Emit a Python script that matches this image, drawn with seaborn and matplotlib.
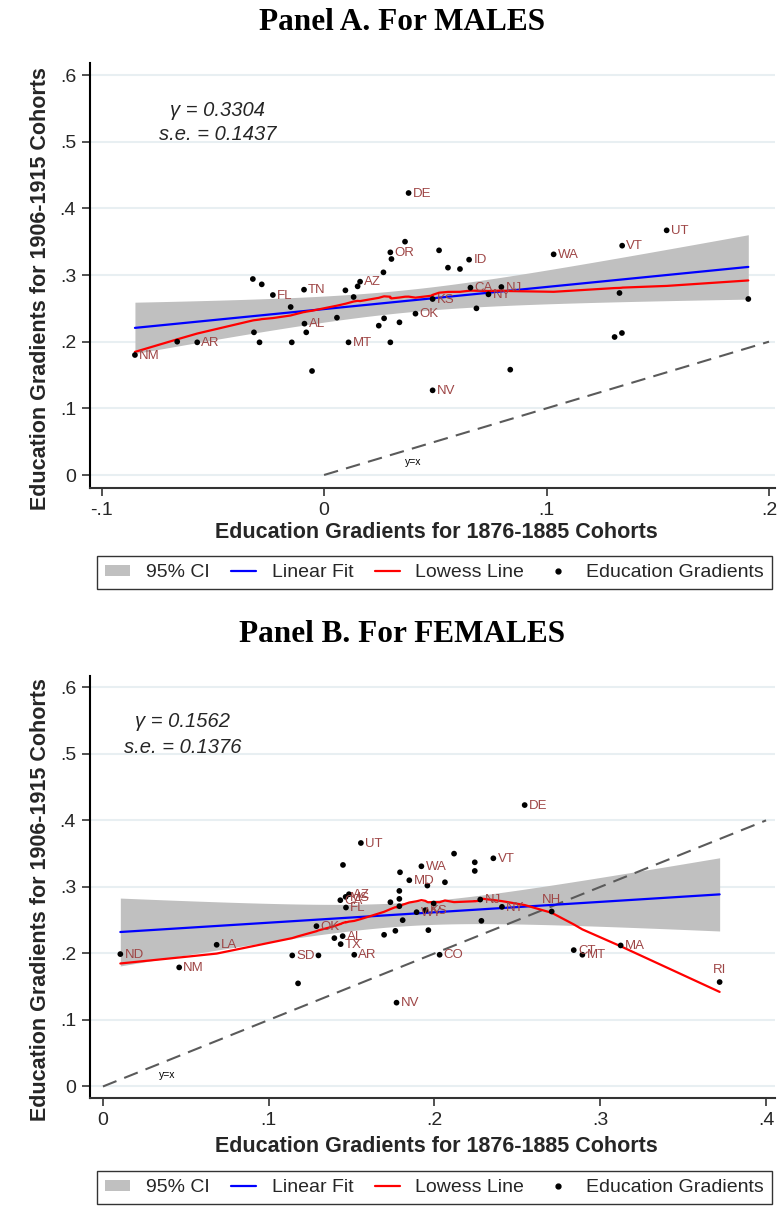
import numpy as np
import pandas as pd
import matplotlib
matplotlib.use("Agg")
import matplotlib.pyplot as plt
import seaborn as sns
from matplotlib.lines import Line2D
from matplotlib.patches import Patch
from matplotlib.ticker import FuncFormatter

# ---------------- data ----------------
states_m = ['NM', '', 'AR', '', '', 'FL', 'TN', '', '', '', 'AL', '', '', '', '', 'MT', '',
            'DE', '', 'OR', '', '', '', '', 'ID', 'WA', '', 'AZ', '', '', 'CA', 'NJ', 'NY', 'KS',
            '', 'OK', '', '', '', '', 'NV', '', 'VT', 'UT', '', '', '', '']
x_m = [-0.085, -0.066, -0.057, -0.032, -0.028, -0.023, -0.009, -0.015, 0.0096, 0.0058,
       -0.0088, -0.008, -0.0315, -0.029, -0.0145, 0.011, -0.0054, 0.038, 0.0364, 0.0298,
       0.0303, 0.0517, 0.0557, 0.0611, 0.0652, 0.1032, 0.0267, 0.0162, 0.0151, 0.0133,
       0.0658, 0.0797, 0.0739, 0.0488, 0.0685, 0.0411, 0.027, 0.0246, 0.0339, 0.0298,
       0.0488, 0.0837, 0.134, 0.154, 0.1328, 0.1907, 0.1306, 0.1339]
y_m = [0.18, 0.20, 0.199, 0.294, 0.286, 0.27, 0.278, 0.252, 0.277, 0.236, 0.227, 0.214,
       0.214, 0.199, 0.199, 0.199, 0.156, 0.423, 0.35, 0.334, 0.324, 0.337, 0.311, 0.309,
       0.323, 0.331, 0.304, 0.29, 0.283, 0.267, 0.281, 0.282, 0.271, 0.264, 0.25, 0.242,
       0.235, 0.224, 0.229, 0.199, 0.127, 0.158, 0.344, 0.367, 0.273, 0.264, 0.207, 0.213]

states_f = ['ND', 'NM', 'LA', 'SD', '', '', 'OK', 'UT', '', 'VT', '', '', '', 'WA', '', 'MD',
            '', '', '', '', '', '', 'WY', 'KS', '', '', 'NJ', 'NY', '', '', '', '', 'AZ', 'MS',
            'CA', 'FL', 'AL', '', 'TX', 'AR', 'CO', 'NV', 'DE', 'NH', 'CT', 'MT', 'MA', 'RI']
x_f = [0.0105, 0.046, 0.0686, 0.1142, 0.130, 0.1177, 0.1288, 0.1556, 0.1448, 0.2355,
       0.2118, 0.2243, 0.2243, 0.1921, 0.1792, 0.1848, 0.1957, 0.2063, 0.1788, 0.1788,
       0.1734, 0.1788, 0.1892, 0.1945, 0.1995, 0.1808, 0.2276, 0.2407, 0.2283, 0.1963,
       0.1764, 0.1696, 0.1484, 0.1464, 0.1432, 0.1466, 0.1446, 0.1396, 0.1434, 0.1516,
       0.2031, 0.1771, 0.2544, 0.2707, 0.284, 0.2892, 0.3123, 0.372]
y_f = [0.199, 0.179, 0.213, 0.197, 0.197, 0.155, 0.241, 0.366, 0.333, 0.343, 0.35, 0.337,
       0.324, 0.331, 0.322, 0.31, 0.302, 0.307, 0.294, 0.282, 0.277, 0.271, 0.262, 0.265,
       0.275, 0.25, 0.281, 0.27, 0.249, 0.235, 0.234, 0.228, 0.289, 0.285, 0.28, 0.269,
       0.226, 0.223, 0.214, 0.198, 0.198, 0.126, 0.423, 0.263, 0.205, 0.198, 0.212, 0.157]
labels_above_f = ['NH', 'RI']

titles = ['Panel A. For MALES', 'Panel B. For FEMALES']
gamma_txt = ['\u03b3 = 0.3304', '\u03b3 = 0.1562']
se_txt = ['s.e. = 0.1437', 's.e. = 0.1376']
xticks_list = [[-0.1, 0, 0.1, 0.2], [0, 0.1, 0.2, 0.3, 0.4]]
yticks = [0, 0.1, 0.2, 0.3, 0.4, 0.5, 0.6]
xlabel = 'Education Gradients for 1876-1885 Cohorts'
ylabel = 'Education Gradients for 1906-1915 Cohorts'
legend_labels = ['95% CI', 'Linear Fit', 'Lowess Line', 'Education Gradients']
diag_end = [0.2, 0.4]
T975 = 2.0129  # t critical value, df = 46

# ---------------- helpers ----------------
def stata_lowess(x, y, bw=0.8):
    order = np.argsort(x, kind='stable')
    xs, ys = x[order], y[order]
    n = len(xs)
    k = int(np.floor((n * bw - 0.5) / 2))
    fit = np.empty(n)
    for i in range(n):
        lo, hi = max(0, i - k), min(n - 1, i + k)
        xw, yw = xs[lo:hi + 1], ys[lo:hi + 1]
        d = 1.0001 * max(xs[hi] - xs[i], xs[i] - xs[lo])
        w = (1 - (np.abs(xw - xs[i]) / d) ** 3) ** 3
        W = w.sum()
        xm = (w * xw).sum() / W
        ym = (w * yw).sum() / W
        sxx = (w * (xw - xm) ** 2).sum()
        b = (w * (xw - xm) * (yw - ym)).sum() / sxx if sxx > 0 else 0.0
        fit[i] = ym + b * (xs[i] - xm)
    return xs, fit


def fmt(v, pos=None):
    if abs(v) < 1e-9:
        return '0'
    s = f'{v:g}'
    return s.replace('0.', '.')


sns.set_style('white')
plt.rcParams['font.family'] = ['Liberation Sans', 'DejaVu Sans']

fig = plt.figure(figsize=(7.83, 12.2), dpi=100)
W, H = 783, 1220

panels = [
    dict(x=x_m, y=y_m, st=states_m, above=[], rect=(90, 63, 775, 488),
         xlim=(-0.1052, 0.2027), ylim=(-0.0195, 0.618), title_y=22,
         gtxt=(-0.048, 0.547, 0.51), yx=(0.04, 0.02), leg=(97, 555, 772, 590),
         xlab_y=-0.081),
    dict(x=x_f, y=y_f, st=states_f, above=labels_above_f, rect=(90, 676, 775, 1098),
         xlim=(-0.0078, 0.4054), ylim=(-0.0173, 0.617), title_y=634,
         gtxt=(0.048, 0.548, 0.509), yx=(0.039, 0.017), leg=(97, 1170, 772, 1205),
         xlab_y=-0.089),
]

lab_color = '#9E4646'
for p_i, p in enumerate(panels):
    l, t, r, b = p['rect']
    ax = fig.add_axes([l / W, 1 - b / H, (r - l) / W, (b - t) / H])
    x = np.array(p['x'])
    y = np.array(p['y'])
    df = pd.DataFrame({'x': x, 'y': y, 'state': p['st']})

    # gridlines
    for yt in yticks:
        ax.axhline(yt, color='#E8EFF2', lw=1.5, zorder=0)

    # CI and linear fit
    n = len(x)
    slope, inter = np.polyfit(x, y, 1)
    resid = y - (inter + slope * x)
    s = np.sqrt((resid ** 2).sum() / (n - 2))
    xbar = x.mean()
    sxx = ((x - xbar) ** 2).sum()
    xg = np.linspace(x.min(), x.max(), 200)
    yg = inter + slope * xg
    se = s * np.sqrt(1 / n + (xg - xbar) ** 2 / sxx)
    ax.fill_between(xg, yg - T975 * se, yg + T975 * se, color='#C0C0C0', lw=0, zorder=1)
    ax.plot(xg, yg, color='#0000FF', lw=1.6, zorder=3)

    # lowess
    xs, fit = stata_lowess(x, y)
    ax.plot(xs, fit, color='#FF0000', lw=1.6, zorder=4)

    # y = x line
    ax.plot([0, diag_end[p_i]], [0, diag_end[p_i]], color='#5A5A5A', lw=1.5,
            dashes=(7, 4), zorder=2)
    ax.text(p['yx'][0], p['yx'][1], 'y=x', fontsize=7.5, ha='center', va='center',
            color='black')

    # points
    sns.scatterplot(data=df, x='x', y='y', ax=ax, color='black', s=17,
                    edgecolor='none', zorder=5, legend=False)
    for xi, yi, st in zip(x, y, p['st']):
        if not st:
            continue
        if st in p['above']:
            ax.annotate(st, (xi, yi), xytext=(0, 4), textcoords='offset points',
                        ha='center', va='bottom', fontsize=9.5, color=lab_color, zorder=6)
        else:
            ax.annotate(st, (xi, yi), xytext=(3, -0.5), textcoords='offset points',
                        ha='left', va='center', fontsize=9.5, color=lab_color, zorder=6)

    # gamma text
    gx, gy1, gy2 = p['gtxt']
    ax.text(gx, gy1, gamma_txt[p_i], fontsize=14.5, style='italic', ha='center', va='center')
    ax.text(gx, gy2, se_txt[p_i], fontsize=14.5, style='italic', ha='center', va='center')

    ax.set_xlim(*p['xlim'])
    ax.set_ylim(*p['ylim'])
    ax.set_xticks(xticks_list[p_i])
    ax.set_yticks(yticks)
    ax.xaxis.set_major_formatter(FuncFormatter(fmt))
    ax.yaxis.set_major_formatter(FuncFormatter(fmt))
    ax.tick_params(axis='both', direction='out', length=6, width=1.2, labelsize=14,
                   color='#333333', pad=4, left=True, bottom=True)
    for side in ['top', 'right']:
        ax.spines[side].set_visible(False)
    ax.spines['left'].set_color('black')
    ax.spines['left'].set_linewidth(1.5)
    ax.spines['bottom'].set_color('#333333')
    ax.spines['bottom'].set_linewidth(1.5)

    ax.set_xlabel(xlabel, fontsize=15.5, fontweight='bold')
    ax.set_ylabel(ylabel, fontsize=15.5, fontweight='bold')
    ax.xaxis.set_label_coords(0.505, p['xlab_y'])
    ax.yaxis.set_label_coords((51 - l) / (r - l), 0.47)

    fig.text(402 / W, 1 - p['title_y'] / H, titles[p_i], family='Liberation Serif',
             fontweight='bold', fontsize=22.5, ha='center', va='center', color='black')

    # legend
    L, T, R, B = p['leg']
    handles = [Patch(facecolor='#C0C0C0', edgecolor='none'),
               Line2D([], [], color='#0000FF', lw=1.6),
               Line2D([], [], color='#FF0000', lw=1.6),
               Line2D([], [], color='black', marker='o', markersize=3.5, lw=0)]
    leg = fig.legend(handles, legend_labels, loc='center', ncol=4, mode='expand',
                     bbox_to_anchor=(L / W, 1 - B / H, (R - L) / W, (B - T) / H),
                     fontsize=14, frameon=True, fancybox=False, borderaxespad=0,
                     handlelength=1.3, handleheight=0.5, handletextpad=0.8,
                     borderpad=0.4)
    leg.get_frame().set_edgecolor('black')
    leg.get_frame().set_linewidth(1.0)

fig.savefig('out.png', dpi=100)
